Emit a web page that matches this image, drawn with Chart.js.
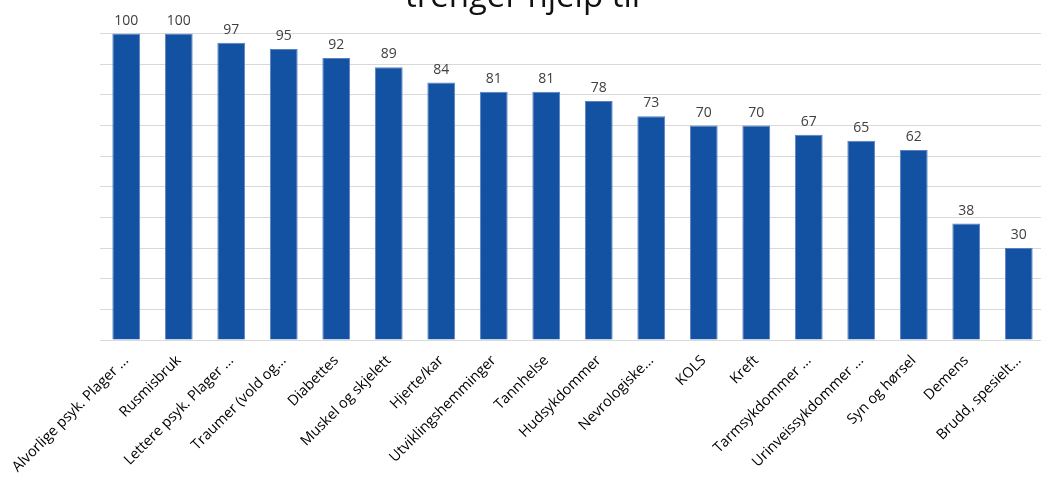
<!DOCTYPE html>
<html>
<head>
<meta charset="utf-8">
<script src="https://cdn.jsdelivr.net/npm/chart.js@4.4.1/dist/chart.umd.min.js"></script>
<style>
  html, body { margin: 0; padding: 0; background: #fff; overflow: hidden; width: 1041px; height: 480px; }
  #wrap { position: absolute; left: 0; top: -40px; width: 1045px; height: 520px; }
</style>
</head>
<body>
<div id="wrap"><canvas id="chart" width="1045" height="520"></canvas></div>
<script>
// categories and values
var categories = [
	"Alvorlige psyk. Plager ...", "Rusmisbruk", "Lettere psyk. Plager ...", "Traumer (vold og...",
	"Diabettes", "Muskel og skjelett", "Hjerte/kar", "Utviklingshemminger", "Tannhelse",
	"Hudsykdommer", "Nevrologiske...", "KOLS", "Kreft", "Tarmsykdommer ...",
	"Urinveissykdommer ...", "Syn og hørsel", "Demens", "Brudd, spesielt..."
];
var values = [100, 100, 97, 95, 92, 89, 84, 81, 81, 78, 73, 70, 70, 67, 65, 62, 38, 30];
var title_text = "trenger hjelp til";

var valueLabels = {
	id: "valueLabels",
	afterDatasetsDraw: function (chart) {
		var ctx = chart.ctx;
		var meta = chart.getDatasetMeta(0);
		ctx.save();
		ctx.font = "14px 'Open Sans'";
		ctx.fillStyle = "#404040";
		ctx.textAlign = "center";
		ctx.textBaseline = "bottom";
		meta.data.forEach(function (bar, i) {
			ctx.fillText(values[i], bar.x, bar.y - 6);
		});
		ctx.restore();
	}
};

var context = document.getElementById("chart").getContext("2d");
var chart = new Chart(context, {
	type: "bar",
	data: {
		labels: categories,
		datasets: [{
			data: values,
			backgroundColor: "#1351A2",
			borderColor: "#5a80bf",
			borderWidth: 1,
			barPercentage: 0.53,
			categoryPercentage: 1
		}]
	},
	options: {
		responsive: false,
		animation: false,
		layout: { padding: 0 },
		plugins: {
			legend: { display: false },
			tooltip: { enabled: false },
			title: {
				display: true,
				text: title_text,
				color: "#111",
				font: { family: "Open Sans", size: 33, weight: "normal" },
				padding: { top: 18, bottom: 16 }
			}
		},
		scales: {
			x: {
				grid: { display: false },
				border: { display: false },
				ticks: {
					color: "#000",
					font: { family: "Open Sans", size: 14.5 },
					minRotation: 45,
					maxRotation: 45,
					autoSkip: false,
					padding: 4
				},
				afterFit: function (scale) { scale.height = 140; }
			},
			y: {
				min: 0,
				max: 100,
				ticks: { display: false, stepSize: 10 },
				grid: { color: "#d9d9d9", drawTicks: false },
				border: { display: false },
				afterFit: function (scale) { scale.width = 100; }
			}
		}
	},
	plugins: [valueLabels]
});
window.chart = chart;
</script>
</body>
</html>
